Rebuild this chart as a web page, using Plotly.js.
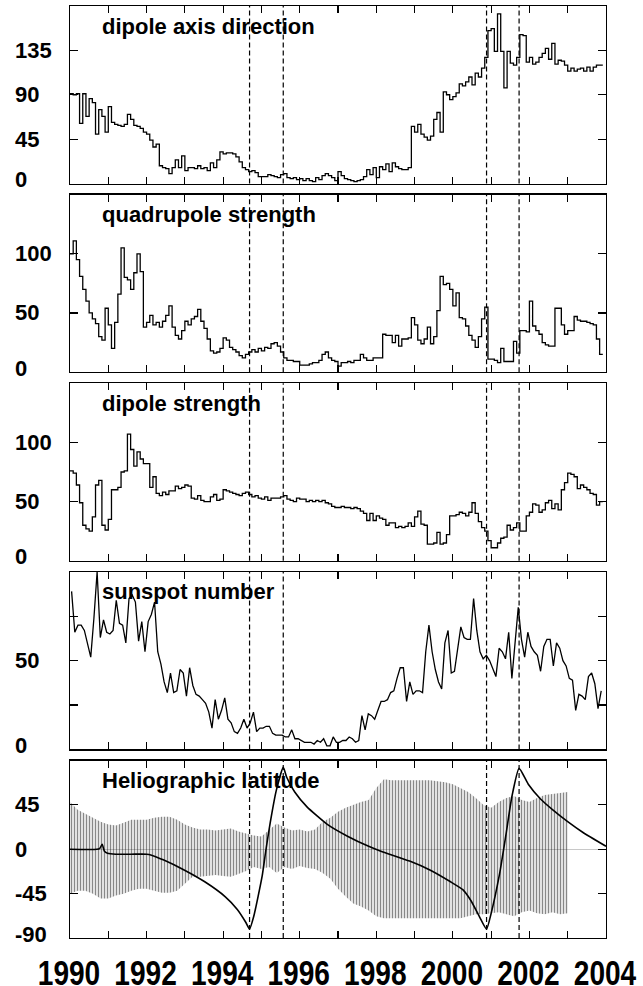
<!DOCTYPE html>
<html>
<head>
<meta charset="utf-8">
<script src="https://cdn.plot.ly/plotly-3.0.1.min.js"></script>
<style>html,body{margin:0;padding:0;background:#fff}</style>
</head>
<body>
<div id="chart" style="width:643px;height:986px"></div>
<script>
// Monthly series starting January 1990
const startYear = 1990;
const endYear = 2004;

const dipoleAxisDirection = [
  91,90,91,61,91,68,86,82,50,75,
  68,52,78,62,60,59,58,60,70,65,
  59,58,56,52,50,44,37,40,18,16,
  15,10,16,24,16,28,13,16,16,15,
  18,15,16,13,21,16,24,32,30,31,
  31,30,27,22,16,14,12,13,11,7,
  7,7,9,8,
  7,6,9,10,6,5,6,4,5,3,
  5,3,2,6,4,8,10,8,6,3,
  12,8,5,4,3,2,3,4,7,14,
  9,16,6,17,14,20,12,21,17,15,
  14,14,16,58,52,60,50,47,44,48,
  65,72,52,93,90,85,88,92,101,99,
  103,108,100,112,108,117,128,
  155,157,134,172,134,97,134,122,120,128,
  151,150,123,128,121,123,128,132,137,126,
  142,121,125,124,120,114,117,114,116,117,
  114,118,114,118,120,120
];

const quadrupoleStrength = [
  100,111,95,81,70,60,50,45,41,30,
  27,54,40,20,42,66,105,80,78,70,
  84,100,85,38,42,48,40,42,38,43,
  48,56,38,31,28,35,43,40,45,47,
  53,43,37,28,18,16,17,20,29,27,
  21,19,17,14,12,15,17,19,17,20,
  18,21,20,24,
  25,22,17,12,10,10,9,9,6,6,
  6,7,8,8,10,15,17,12,10,9,
  5,8,8,9,8,10,10,15,12,10,
  10,12,12,12,32,31,31,25,31,22,
  28,28,29,46,40,27,24,28,38,24,
  30,52,81,74,75,70,56,67,46,45,
  39,31,27,21,30,45,55,
  11,11,10,8,20,9,9,9,26,16,
  35,35,34,60,39,35,32,25,23,22,
  22,54,54,40,32,35,35,47,44,43,
  43,42,41,40,28,15
];

const dipoleStrength = [
  76,74,64,49,30,27,25,37,64,68,
  30,26,35,60,60,62,75,76,107,94,
  80,92,86,82,82,62,71,57,55,58,
  56,59,59,63,61,62,64,63,53,52,
  55,51,50,50,54,56,51,52,60,59,
  58,57,56,55,57,58,56,54,55,53,
  52,54,51,53,
  53,53,54,55,52,51,50,53,52,52,
  50,51,50,51,50,51,49,48,46,45,
  45,46,45,45,44,45,44,42,40,34,
  40,34,38,36,35,30,32,32,28,29,
  28,29,32,29,37,42,31,30,14,14,
  15,24,14,15,22,38,38,39,41,40,
  38,41,49,40,33,28,25,
  17,11,11,15,19,20,30,26,28,32,
  25,25,38,41,48,47,41,43,49,51,
  44,48,43,60,66,74,73,71,61,64,
  62,60,57,56,47,50
];

const sunspotNumber = [
  89,66,70,70,67,60,52,74,100,63,
  73,66,65,67,84,71,70,60,85,87,
  83,61,72,55,72,76,83,55,48,38,
  32,43,32,33,45,43,30,46,36,31,
  30,28,26,21,12,28,17,22,29,17,
  15,10,9,12,17,12,15,21,10,12,
  12,13,13,9,
  8,8,8,7,7,11,6,6,5,4,
  4,4,3,5,4,6,2,2,7,4,
  4,5,5,7,6,4,5,19,11,20,
  19,17,22,27,27,28,32,33,40,46,
  46,27,38,31,33,33,32,55,70,55,
  45,38,34,60,67,43,44,58,69,63,
  62,62,85,67,55,51,53,50,45,41,
  57,55,51,66,40,60,80,62,52,66,
  58,55,53,44,58,62,62,47,60,57,
  50,47,40,39,22,31,30,28,41,43,
  37,23,33
];

// Spacecraft heliographic latitude (degrees)
const latitudeYears = [
  1990.00,1990.70,1990.78,1990.84,1990.90,1990.98,1991.20,1991.60,1992.00,1992.13,
  1992.45,1992.98,1993.52,1994.05,1994.37,1994.59,1994.69,1994.80,1995.02,1995.12,
  1995.23,1995.39,1995.57,1995.66,1995.87,1996.19,1996.73,1997.26,1997.80,1998.12,
  1998.87,1999.40,1999.94,2000.26,2000.47,2000.69,2000.88,2001.00,2001.22,2001.38,
  2001.54,2001.73,2001.97,2002.29,2002.61,2003.00,2003.40,2004.00
];
const latitudeValues = [
  0,0,1,5,-2,-4,-5,-5,-5,-6,
  -11,-21,-33,-48,-61,-74,-81,-68,-27,0,
  27,60,83,73,58,43,25,13,3,-2,
  -12,-21,-33,-41,-52,-68,-81,-65,-25,13,
  53,82,66,51,40,28,17,3
];

// Extent of the rotation-by-rotation latitude band
const bandYears = [
  1990.0,1990.2,1990.4,1990.6,1990.8,1991.0,1991.2,1991.4,1991.6,1991.8,
  1992.0,1992.2,1992.4,1992.6,1992.8,1993.0,1993.2,1993.4,1993.6,1993.8,
  1994.0,1994.2,1994.4,1994.6,1994.8,1995.0,1995.2,1995.4,1995.6,1995.8,
  1996.0,1996.2,1996.4,1996.6,1996.8,1997.0,1997.2,1997.4,1997.6,1997.8,
  1998.0,1998.2,1998.4,1998.6,1998.8,1999.0,1999.2,1999.4,1999.6,1999.8,
  2000.0,2000.2,2000.4,2000.6,2000.8,2001.0,2001.2,2001.4,2001.6,2001.8,
  2002.0,2002.2,2002.4,2002.6,2002.8,2003.0
];
const bandTop = [
  48,40,36,32,28,25,24,27,30,30,
  30,32,33,33,30,25,22,20,20,19,
  20,21,18,16,14,13,20,26,22,19,
  20,18,20,28,32,38,42,45,48,50,
  62,71,70,70,70,70,70,70,69,68,
  66,62,58,52,45,42,48,52,54,50,
  48,52,55,56,57,58
];
const bandBottom = [
  -45,-42,-42,-45,-50,-50,-47,-45,-42,-40,
  -40,-42,-44,-44,-42,-35,-28,-28,-27,-26,
  -27,-28,-25,-22,-18,-20,-18,-24,-18,-20,
  -17,-19,-20,-24,-30,-40,-48,-55,-58,-62,
  -68,-70,-70,-70,-70,-70,-70,-70,-70,-70,
  -70,-70,-68,-66,-66,-65,-64,-66,-68,-64,
  -62,-65,-66,-64,-66,-65
];

// Polar passes marked in every panel
const markerYears = [1994.69, 1995.57, 2000.88, 2001.73];

const panelTitles = ['dipole axis direction', 'quadrupole strength', 'dipole strength', 'sunspot number', 'Heliographic latitude'];
const panelRanges = [[0, 180], [0, 150], [0, 150], [0, 100], [-90, 90]];
const panelTickVals = [[0, 45, 90, 135], [0, 50, 100], [0, 50, 100], [0, 25, 50, 75], [-90, -45, 0, 45]];
const panelTickText = [['0', '45', '90', '135'], ['0', '50', '100'], ['0', '50', '100'], ['0', '', '50', ''], ['-90', '-45', '0', '45']];
const yearTicks = [1990,1991,1992,1993,1994,1995,1996,1997,1998,1999,2000,2001,2002,2003,2004];
const yearLabels = ['1990','','1992','','1994','','1996','','1998','','2000','','2002','','2004'];

// ---- layout geometry ----
const W = 643, H = 986;
const margin = {l: 70, r: 37, t: 6, b: 48};
const plotH = H - margin.t - margin.b;
const panelPx = 177.5;
const gapPx = (plotH - 5 * panelPx) / 4;

const boldFont = 'Liberation Sans, Arial, sans-serif';

const monthStart = k => startYear + k / 12;
const monthMid = k => startYear + (k + 0.5) / 12;

function stepTrace(values, n) {
  const x = values.map((_, k) => monthStart(k));
  const y = values.slice();
  x.push(monthStart(values.length));
  y.push(values[values.length - 1]);
  return {x, y, xaxis: 'x' + n, yaxis: 'y' + n, type: 'scatter', mode: 'lines',
          line: {shape: 'hv', color: '#000', width: 1.3}, hoverinfo: 'skip'};
}

const traces = [
  stepTrace(dipoleAxisDirection, 1),
  stepTrace(quadrupoleStrength, 2),
  stepTrace(dipoleStrength, 3),
  {x: sunspotNumber.map((_, k) => monthMid(k)), y: sunspotNumber, xaxis: 'x4', yaxis: 'y4',
   type: 'scatter', mode: 'lines', line: {color: '#000', width: 1.3}},
  {x: bandYears, y: bandBottom, xaxis: 'x5', yaxis: 'y5', type: 'scatter', mode: 'lines',
   line: {width: 0, color: 'rgba(0,0,0,0)'}},
  {x: bandYears, y: bandTop, xaxis: 'x5', yaxis: 'y5', type: 'scatter', mode: 'lines',
   line: {width: 0, color: 'rgba(0,0,0,0)'}, fill: 'tonexty', fillcolor: 'rgba(0,0,0,0)',
   fillpattern: {shape: '|', size: 3, solidity: 0.5, fgcolor: '#111', bgcolor: 'rgba(255,255,255,0)', fillmode: 'overlay'}},
  {x: latitudeYears, y: latitudeValues, xaxis: 'x5', yaxis: 'y5', type: 'scatter', mode: 'lines',
   line: {color: '#000', width: 1.6, shape: 'spline', smoothing: 0.5}}
];

const layout = {
  width: W, height: H, margin: margin,
  paper_bgcolor: '#fff', plot_bgcolor: '#fff',
  showlegend: false,
  shapes: [], annotations: []
};

for (let i = 0; i < 5; i++) {
  const n = i + 1;
  const topPx = i * (panelPx + gapPx);
  const dom = [1 - (topPx + panelPx) / plotH, 1 - topPx / plotH];
  const xa = {
    domain: [0, 1], anchor: 'y' + n, range: [startYear, endYear],
    tickmode: 'array', tickvals: yearTicks, ticktext: yearLabels, tickangle: 0,
    ticks: 'inside', ticklen: 7, tickwidth: 1.2, tickcolor: '#000',
    showline: true, linecolor: '#000', linewidth: 1.3, mirror: 'ticks',
    showgrid: false, zeroline: false, showticklabels: n === 5,
    ticklabelshift: -1, ticklabelstandoff: 3, ticklabeloverflow: 'allow',
    tickfont: {family: boldFont, size: 36, color: '#000', weight: 'bold'}
  };
  if (n > 1) xa.matches = 'x';
  layout['xaxis' + (n === 1 ? '' : n)] = xa;
  layout['yaxis' + (n === 1 ? '' : n)] = {
    domain: dom, anchor: 'x' + n, range: panelRanges[i],
    tickvals: panelTickVals[i], ticks: 'inside', ticklen: 8, tickwidth: 1.2, tickcolor: '#000',
    showline: true, linecolor: '#000', linewidth: 1.3, mirror: 'ticks',
    showgrid: false, showticklabels: false,
    zeroline: n === 5, zerolinecolor: '#c8c8c8', zerolinewidth: 1
  };
  // left-aligned value labels
  panelTickVals[i].forEach((v, j) => {
    if (!panelTickText[i][j]) return;
    layout.annotations.push({
      xref: 'paper', x: -57 / (W - margin.l - margin.r), xanchor: 'left',
      yref: 'y' + n, y: v, yanchor: 'middle', yshift: v === panelRanges[i][0] ? 4 : 0,
      text: panelTickText[i][j], showarrow: false,
      font: {family: boldFont, size: 22, color: '#000', weight: 'bold'}
    });
  });
  // panel title
  layout.annotations.push({
    xref: 'paper', x: 30 / (W - margin.l - margin.r), xanchor: 'left',
    yref: 'y' + n + ' domain', y: 1, yanchor: 'middle', yshift: -20,
    text: panelTitles[i], showarrow: false,
    font: {family: boldFont, size: 22, color: '#000', weight: 'bold'}
  });
  // dashed markers
  markerYears.forEach(t => {
    layout.shapes.push({
      type: 'line', xref: 'x' + n, yref: 'y' + n + ' domain', x0: t, x1: t, y0: 0, y1: 1,
      line: {color: '#000', width: 1.2, dash: '5px,3px'}, layer: 'above'
    });
  });
}

Plotly.newPlot('chart', traces, layout, {staticPlot: true, displayModeBar: false}).then(gd => {
  // condensed year labels: squeeze each label horizontally about its tick
  gd.querySelectorAll('.x5tick text').forEach(t => {
    const tr = t.getAttribute('transform') || '';
    t.setAttribute('transform', tr + ' scale(0.78,1)');
  });
});
</script>
</body>
</html>
